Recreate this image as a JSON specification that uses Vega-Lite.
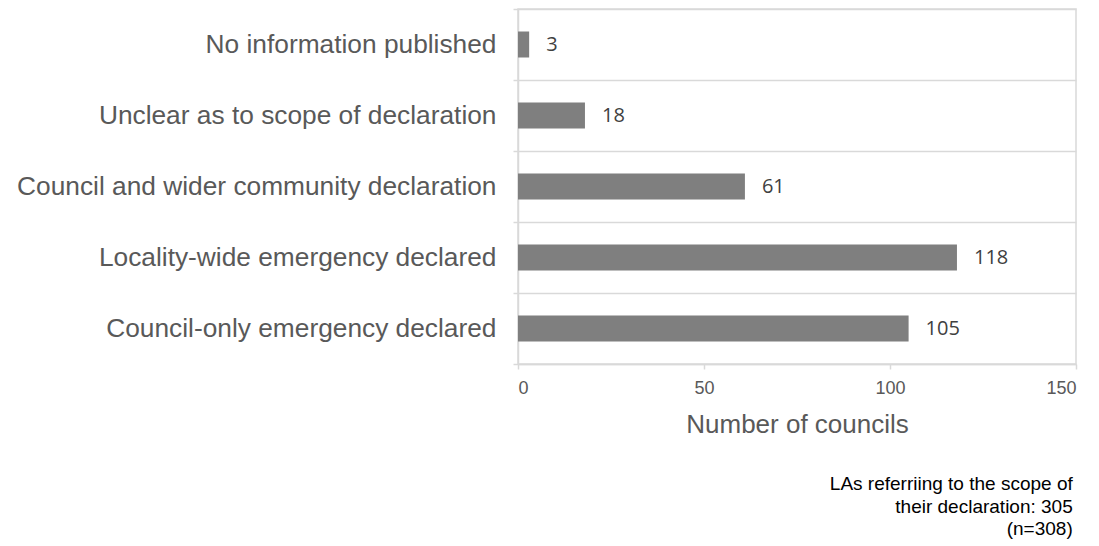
{
  "$schema": "https://vega.github.io/schema/vega-lite/v6.json",
  "width": 558,
  "height": 355,
  "autosize": "none",
  "padding": {"left": 518, "top": 9, "right": 23, "bottom": 182},
  "background": "white",
  "view": {"stroke": "#d9d9d9", "strokeWidth": 1.5},
  "title": {
    "text": ["LAs referriing to the scope of", "their declaration: 305", "(n=308)"],
    "orient": "bottom",
    "anchor": "end",
    "align": "right",
    "font": "Liberation Sans",
    "fontSize": 19,
    "fontWeight": "normal",
    "color": "#000000",
    "lineHeight": 22.5,
    "offset": 38,
    "dx": -4
  },
  "data": {
    "values": [
      {"category": "No information published", "count": 3},
      {"category": "Unclear as to scope of declaration", "count": 18},
      {"category": "Council and wider community declaration", "count": 61},
      {"category": "Locality-wide emergency declared", "count": 118},
      {"category": "Council-only emergency declared", "count": 105}
    ]
  },
  "encoding": {
    "y": {
      "field": "category",
      "type": "nominal",
      "sort": null,
      "scale": {"paddingInner": 0, "paddingOuter": 0},
      "axis": {
        "title": null,
        "tickBand": "extent",
        "grid": true,
        "gridColor": "#d9d9d9",
        "gridWidth": 1.5,
        "domainColor": "#d9d9d9",
        "domainWidth": 1.5,
        "tickColor": "#d9d9d9",
        "tickWidth": 1.5,
        "tickSize": 5,
        "labelFont": "Liberation Sans",
        "labelFontSize": 26.3,
        "labelColor": "#595959",
        "labelPadding": 17,
        "labelLimit": 600
      }
    },
    "x": {
      "field": "count",
      "type": "quantitative",
      "scale": {"domain": [0, 150], "nice": false},
      "axis": {
        "title": "Number of councils",
        "values": [0, 50, 100, 150],
        "grid": false,
        "domainColor": "#d9d9d9",
        "domainWidth": 1.5,
        "tickColor": "#d9d9d9",
        "tickWidth": 1.5,
        "tickSize": 5,
        "labelFont": "Liberation Sans",
        "labelFontSize": 18,
        "labelColor": "#595959",
        "labelPadding": 10,
        "titleFont": "Liberation Sans",
        "titleFontSize": 26,
        "titleFontWeight": "normal",
        "titleColor": "#595959",
        "titlePadding": 14
      }
    }
  },
  "layer": [
    {"mark": {"type": "bar", "color": "#7f7f7f", "size": 26}},
    {
      "mark": {"type": "text", "align": "left", "baseline": "middle", "dx": 17, "font": "Open Sans", "fontSize": 20, "color": "#404040"},
      "encoding": {"text": {"field": "count", "type": "quantitative"}}
    }
  ]
}
